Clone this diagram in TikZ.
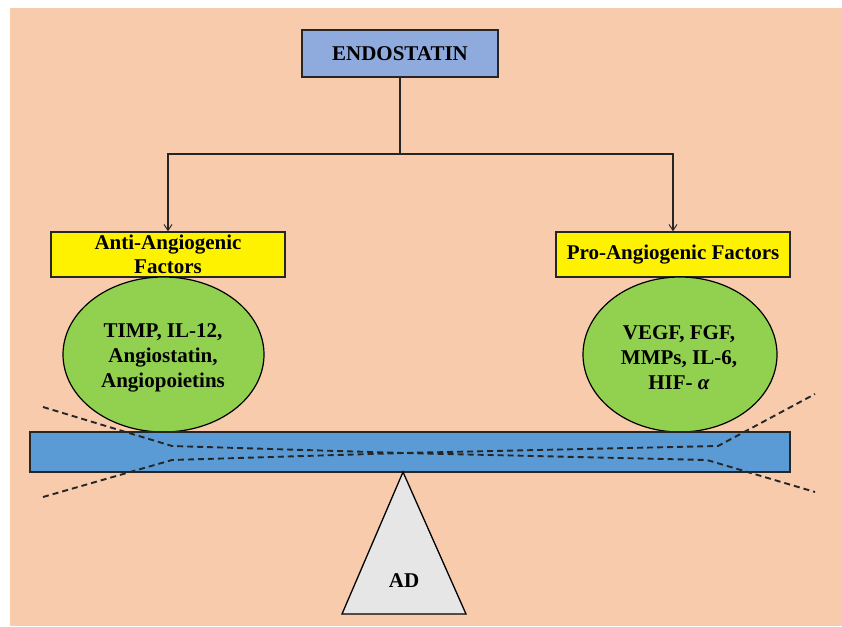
\documentclass[tikz,border=0pt]{standalone}
\usepackage{fontspec}
\setmainfont{Liberation Serif}
\usetikzlibrary{arrows.meta,shapes.geometric}
\definecolor{bgpeach}{HTML}{F8CBAD}
\definecolor{endoblue}{HTML}{8FAADC}
\definecolor{beamblue}{HTML}{5B9BD5}
\definecolor{leafgreen}{HTML}{92D050}
\definecolor{tgray}{HTML}{E7E6E6}
\definecolor{edgedark}{HTML}{262626}
\begin{document}
\begin{tikzpicture}[x=1pt,y=-1pt,
  font=\fontsize{21}{25}\selectfont\bfseries,
  box/.style={draw=edgedark, line width=1.3pt, inner sep=0pt, align=center},
  factorbox/.style={box, fill=yellow, minimum width=234pt, minimum height=45pt},
  ball/.style={ellipse, draw=black, line width=1.2pt, fill=leafgreen, inner sep=0pt, align=center},
  conn/.style={draw=edgedark, line width=1.2pt},
  arr/.style={conn, -{Straight Barb[length=6pt,width=8pt,line width=1pt]}},
  tilt/.style={draw=edgedark, line width=1.9pt, dash pattern=on 6pt off 4pt}]
\useasboundingbox (0,0) rectangle (842,626);
\fill[bgpeach] (10,8) rectangle (842,626);

\node[box, fill=endoblue, minimum width=196pt, minimum height=47pt] (endo) at (400,53.5) {ENDOSTATIN};
\node[factorbox] (anti) at (168,254.5) {Anti-Angiogenic\\[-1pt]Factors};
\node[factorbox] (pro) at (673,254.5) {Pro-Angiogenic Factors};

\node[ball, minimum width=201pt, minimum height=155pt] (antiball) at (163.5,354.5) {};
\node[align=center] (antitext) at (163,357.5) {TIMP, IL-12,\\Angiostatin,\\Angiopoietins};
\node[ball, minimum width=194pt, minimum height=155pt] (proball) at (680,354.5) {};
\node[align=center] (protext) at (679,357.5) {VEGF, FGF,\\MMPs, IL-6,\\HIF- \textit{α}};

\coordinate (split) at (400,154);
\draw[conn] (endo.south) -- (split);
\draw[arr] (split) -| (anti.north);
\draw[arr] (split) -| (pro.north);

\node[box, fill=beamblue, minimum width=760pt, minimum height=40pt] (beam) at (410,452) {};
\draw[draw=black, line width=1.3pt, fill=tgray] (403,472) -- (466,614) -- (342,614) -- cycle;
\node (ad) at (404,581) {AD};

\coordinate (c) at (403,453);
\draw[tilt] (43,407) -- (172,446) -- (c) -- (718,446) -- (815,394);
\draw[tilt] (43,497) -- (172,460) -- (c) -- (707,460) -- (815,492);
\end{tikzpicture}
\end{document}
